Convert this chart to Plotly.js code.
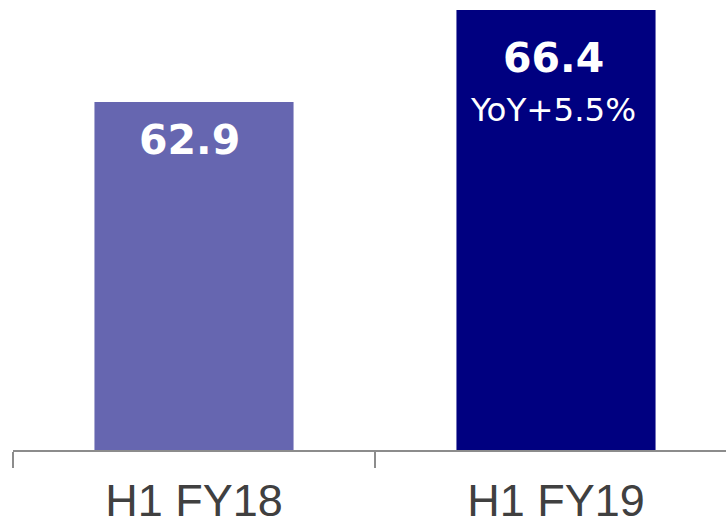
<!DOCTYPE html>
<html>
<head>
<meta charset="utf-8">
<script src="https://cdn.plot.ly/plotly-3.0.1.min.js"></script>
<style>html,body{margin:0;padding:0;background:#fff;}#chart{width:726px;height:525px;}</style>
</head>
<body>
<div id="chart"></div>
<script>
const categories = ["H1 FY18", "H1 FY19"];
const values = [62.9, 66.4];
const valueLabels = ["62.9", "66.4"];
const yoyLabels = ["", "YoY+5.5%"];
const barColors = ["#6666B0", "#000080"];

const trace = {
  type: "bar",
  x: categories,
  y: values,
  width: 0.55,
  marker: {color: barColors, line: {width: 0}},
  hoverinfo: "none",
  cliponaxis: true
};

const annotations = [];
categories.forEach((c, i) => {
  annotations.push({
    x: c, y: values[i], xref: "x", yref: "y",
    text: "<b>" + valueLabels[i] + "</b>",
    showarrow: false, yanchor: "top", xanchor: "center",
    yshift: i === 0 ? -12 : -22,
    xshift: i === 0 ? -5 : -3,
    font: {family: "DejaVu Sans", size: 41, color: "#ffffff"}
  });
  if (yoyLabels[i]) {
    annotations.push({
      x: c, y: values[i], xref: "x", yref: "y",
      text: yoyLabels[i],
      showarrow: false, yanchor: "top", xanchor: "center",
      yshift: -79, xshift: -3,
      font: {family: "DejaVu Sans", size: 32.5, color: "#ffffff"}
    });
  }
});

const layout = {
  width: 726, height: 525,
  margin: {l: 13, r: 0, t: 0, b: 75, pad: 0},
  paper_bgcolor: "#ffffff", plot_bgcolor: "#ffffff",
  showlegend: false,
  xaxis: {
    type: "category",
    range: [-0.5, 1.4696],
    showline: true, linecolor: "#8c8c8c", linewidth: 2,
    ticks: "outside", tickson: "boundaries", ticklen: 16, tickwidth: 2, tickcolor: "#8c8c8c",
    ticklabelstandoff: 10,
    showgrid: false, zeroline: false,
    tickfont: {family: "Liberation Sans, Arial", size: 45, color: "#404040"},
    fixedrange: true
  },
  yaxis: {
    range: [49.66, 66.78],
    visible: false, showgrid: false, zeroline: false, fixedrange: true
  },
  annotations: annotations
};

Plotly.newPlot("chart", [trace], layout, {displayModeBar: false, staticPlot: true});
</script>
</body>
</html>
